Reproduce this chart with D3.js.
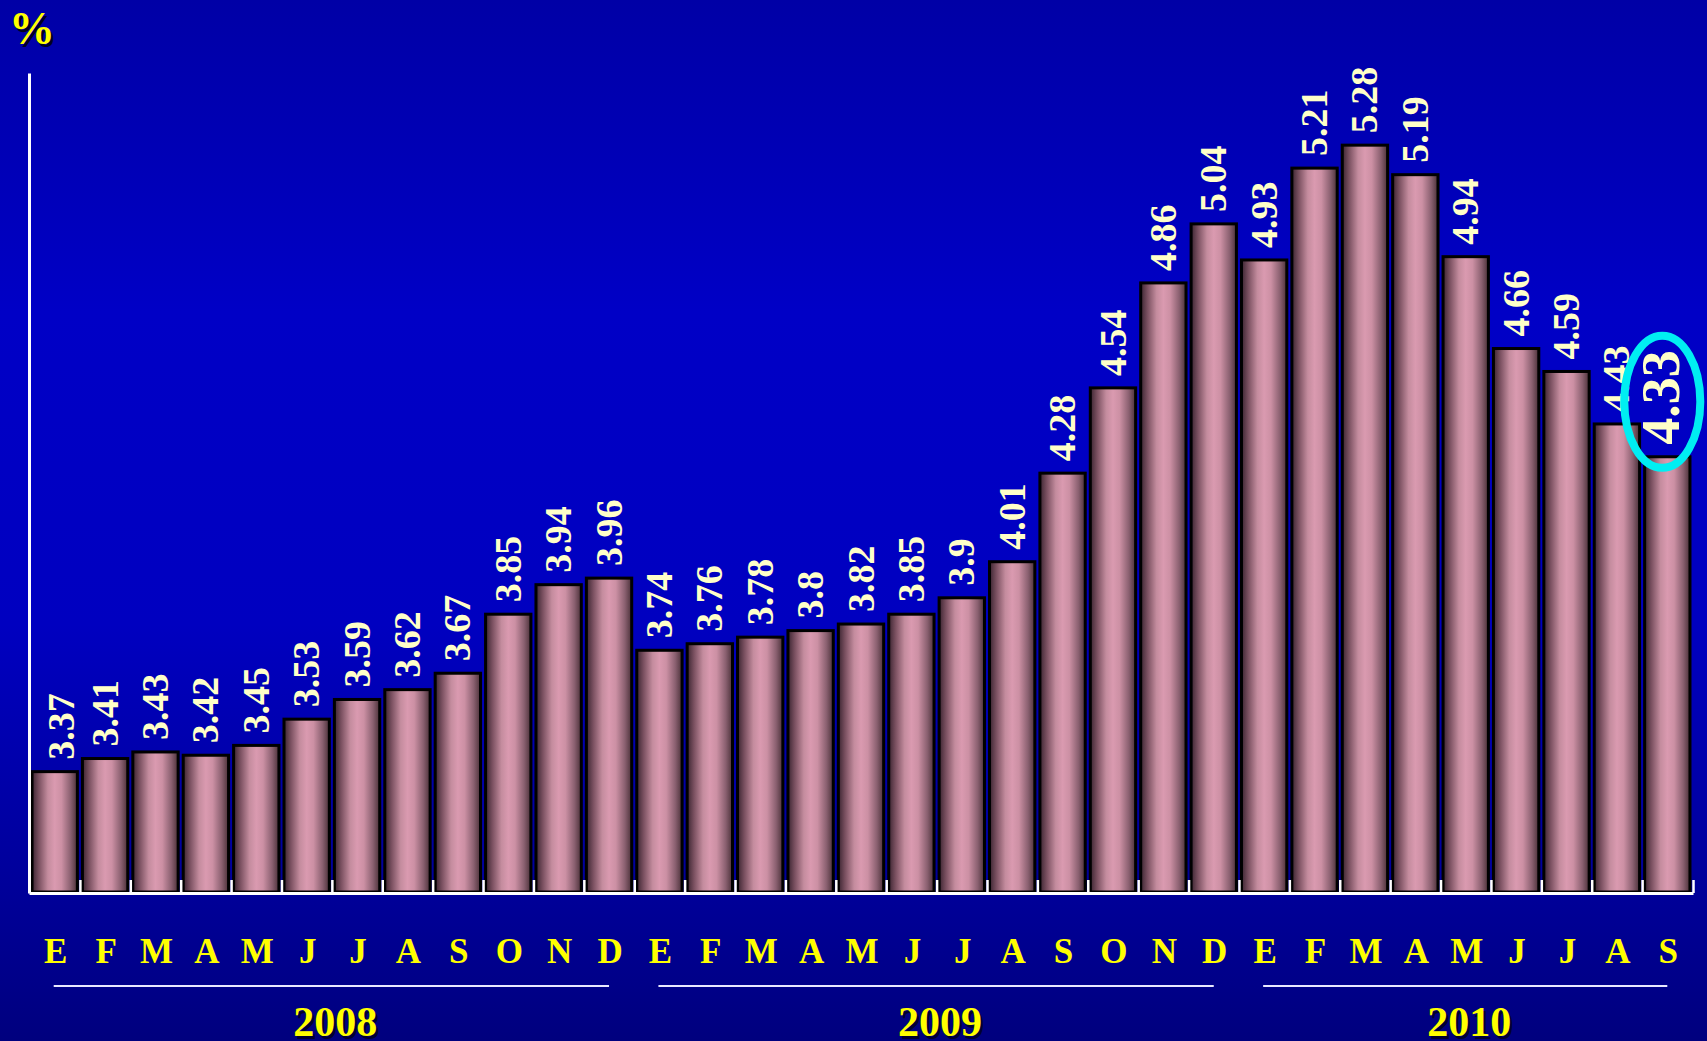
<!DOCTYPE html>
<html>
<head>
<meta charset="utf-8">
<script src="https://cdn.jsdelivr.net/npm/d3@7/dist/d3.min.js"></script>
<style>
html,body{margin:0;padding:0;background:#0000b0;overflow:hidden;}
svg{display:block;}
</style>
</head>
<body>
<svg id="chart" width="1707" height="1041"></svg>
<script>
const months = ["E","F","M","A","M","J","J","A","S","O","N","D",
                "E","F","M","A","M","J","J","A","S","O","N","D",
                "E","F","M","A","M","J","J","A","S"];
const values = [3.37,3.41,3.43,3.42,3.45,3.53,3.59,3.62,3.67,3.85,3.94,3.96,
                3.74,3.76,3.78,3.8,3.82,3.85,3.9,4.01,4.28,4.54,4.86,5.04,
                4.93,5.21,5.28,5.19,4.94,4.66,4.59,4.43,4.33];
const years = ["2008","2009","2010"];
const yearCounts = [12,12,9];
const yDomain = [3, 5.5];
const unitLabel = "%";

(function(){
const W = 1707, H = 1041;
const mLeft = 29, mRight = 1693, mBase = 893, mTop = 73;
const svg = d3.select("#chart");
const defs = svg.append("defs");

const bg = defs.append("linearGradient").attr("id","bg").attr("x1",0).attr("y1",0).attr("x2",0).attr("y2",1);
[[0,"#0000a6"],[0.3,"#0000c6"],[0.6,"#0000c0"],[0.85,"#00009a"],[1,"#00007e"]]
  .forEach(([o,c])=>bg.append("stop").attr("offset",o).attr("stop-color",c));
const bar = defs.append("linearGradient").attr("id","barg").attr("x1",0).attr("y1",0).attr("x2",1).attr("y2",0);
[[0,"#3a2430"],[0.15,"#7a5060"],[0.35,"#c48c9e"],[0.5,"#da9ab0"],[0.65,"#cc90a4"],[0.85,"#8a6070"],[1,"#4a3038"]]
  .forEach(([o,c])=>bar.append("stop").attr("offset",o).attr("stop-color",c));

svg.append("rect").attr("width",W).attr("height",H).attr("fill","url(#bg)");

const idx = values.map((d,i)=>i);
const x = d3.scaleBand().domain(idx).range([mLeft,mRight]).paddingInner(0.1).paddingOuter(0.06);
const y = d3.scaleLinear().domain(yDomain).range([mBase,mTop]);
const serif = "'Liberation Serif','Times New Roman',serif";

// bars
svg.append("g").selectAll("rect").data(values).join("rect")
  .attr("x",(d,i)=>x(i)).attr("width",x.bandwidth())
  .attr("y",d=>y(d)).attr("height",d=>mBase-1-y(d))
  .attr("fill","url(#barg)").attr("stroke","#000").attr("stroke-width",3);

// axes
const yAxis = d3.axisLeft(y).tickValues([]).tickSizeOuter(0);
svg.append("g").attr("transform",`translate(${mLeft},0)`).call(yAxis)
  .call(g=>g.select(".domain").attr("stroke","#fff").attr("stroke-width",3));
const step = x.step();
const tickPos = idx.map(i=>x(i)-step*x.paddingInner()/2).slice(1).concat([mRight]);
const xAxis = d3.axisBottom(d3.scaleLinear().domain([mLeft,mRight]).range([mLeft,mRight]))
  .tickValues(tickPos).tickSize(-13).tickSizeOuter(0).tickFormat("");
svg.append("g").attr("transform",`translate(0,${mBase})`).call(xAxis)
  .call(g=>{g.select(".domain").attr("stroke","#fff").attr("stroke-width",3);
            g.selectAll(".tick line").attr("stroke","#fff").attr("stroke-width",2.5);});

// value labels
const last = values.length-1;
svg.append("g").selectAll("text").data(values).join("text")
  .attr("transform",(d,i)=>`translate(${x(i)+x.bandwidth()/2 + (i===last?-6:(i===0?7:0))},${y(d)-12}) rotate(-90)`)
  .attr("dy","0.33em")
  .attr("font-family",serif).attr("font-weight","bold")
  .attr("font-size",(d,i)=>i===last?54:38)
  .attr("fill","#ffffc8")
  .text(d=>String(d));

// highlight ellipse around the last value
svg.append("ellipse")
  .attr("cx",x(last)+x.bandwidth()/2-5).attr("cy",y(values[last])-55)
  .attr("rx",38).attr("ry",66)
  .attr("fill","none").attr("stroke","#00eef2").attr("stroke-width",8);

// month labels
svg.append("g").selectAll("text").data(months).join("text")
  .attr("x",(d,i)=>x(i)+x.bandwidth()/2+1).attr("y",963)
  .attr("text-anchor","middle")
  .attr("font-family",serif).attr("font-weight","bold").attr("font-size",35)
  .attr("fill","#ffff00").text(d=>d);

// year groups
let start = 0;
const yg = svg.append("g");
years.forEach((yr,k)=>{
  const a = start, b = start+yearCounts[k]-1;
  const x1 = x(a)+x.bandwidth()/2-1, x2 = x(b)+x.bandwidth()/2;
  yg.append("line").attr("x1",x1).attr("x2",x2).attr("y1",986).attr("y2",986)
    .attr("stroke","#e8e8ff").attr("stroke-width",2);
  const cx = (x1+x2)/2+4;
  [[2.5,"#000030"],[0,"#ffff00"]].forEach(([o,c])=>
    yg.append("text").attr("x",cx+o).attr("y",1036+o).attr("text-anchor","middle")
      .attr("font-family",serif).attr("font-weight","bold").attr("font-size",42)
      .attr("fill",c).text(yr));
  start += yearCounts[k];
});

// unit label
[[2.5,"#000020"],[0,"#ffff00"]].forEach(([o,c])=>
  svg.append("text").attr("x",9+o).attr("y",44+o)
    .attr("font-family",serif).attr("font-weight","bold").attr("font-size",46)
    .attr("fill",c).text(unitLabel));
})();
</script>
</body>
</html>
